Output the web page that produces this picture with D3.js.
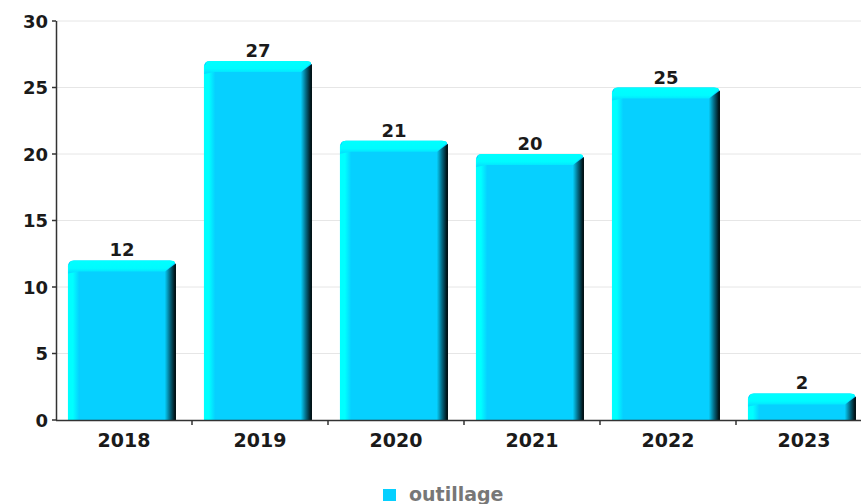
<!DOCTYPE html>
<html>
<head>
<meta charset="utf-8">
<script src="https://cdn.jsdelivr.net/npm/d3@7"></script>
<style>
  html, body { margin: 0; padding: 0; background: #fff; }
  svg { display: block; font-family: "DejaVu Sans", sans-serif; }
</style>
</head>
<body>
<svg id="chart" width="861" height="504"></svg>
<script>
const years = ["2018", "2019", "2020", "2021", "2022", "2023"];
const outillage = [12, 27, 21, 20, 25, 2];
const yTicks = [0, 5, 10, 15, 20, 25, 30];
const seriesName = "outillage";

const svg = d3.select("#chart");
const plot = { left: 56, right: 872, top: 21, bottom: 420 };

// category bands (the last band runs past the right edge of the canvas)
const xb = d3.scaleBand().domain(years).range([plot.left, plot.right]);
const barOffset = xb.bandwidth() * 0.088;
const barWidth = xb.bandwidth() * 0.794;
const y = d3.scaleLinear().domain([0, 30]).range([plot.bottom, plot.top]);

// gradients for the bevelled bar faces
const defs = svg.append("defs");
const leftGrad = defs.append("linearGradient").attr("id", "leftEdge").attr("x1", 0).attr("x2", 1).attr("y1", 0).attr("y2", 0);
leftGrad.append("stop").attr("offset", 0).attr("stop-color", "#00ffff");
leftGrad.append("stop").attr("offset", 0.45).attr("stop-color", "#00ffff");
leftGrad.append("stop").attr("offset", 1).attr("stop-color", "#06d2ff");
const rightGrad = defs.append("linearGradient").attr("id", "rightEdge").attr("x1", 0).attr("x2", 1).attr("y1", 0).attr("y2", 0);
rightGrad.append("stop").attr("offset", 0).attr("stop-color", "#06cdf8");
rightGrad.append("stop").attr("offset", 0.45).attr("stop-color", "#046a84");
rightGrad.append("stop").attr("offset", 1).attr("stop-color", "#000000");
const topGrad = defs.append("linearGradient").attr("id", "topEdge").attr("x1", 0).attr("x2", 0).attr("y1", 0).attr("y2", 1);
topGrad.append("stop").attr("offset", 0).attr("stop-color", "#00ffff");
topGrad.append("stop").attr("offset", 0.6).attr("stop-color", "#00fbff");
topGrad.append("stop").attr("offset", 1).attr("stop-color", "#04dcff");

// grid lines
svg.append("g").selectAll("line").data(yTicks.filter(d => d > 0)).join("line")
  .attr("x1", plot.left).attr("x2", 861)
  .attr("y1", d => y(d)).attr("y2", d => y(d))
  .attr("stroke", "#e6e6e6").attr("stroke-width", 1);

// bars
const bev = 11;
const bars = svg.append("g").selectAll("g").data(years.map((yr, i) => ({ yr, v: outillage[i] }))).join("g");
bars.each(function (d) {
  const g = d3.select(this);
  const x0 = xb(d.yr) + barOffset, w = barWidth;
  const top = y(d.v), bot = y(0), h = bot - top;
  const b = Math.min(bev, h * 0.5);
  // base shape with rounded top corners
  g.append("path")
    .attr("d", `M${x0},${bot} L${x0},${top + 6} Q${x0},${top} ${x0 + 6},${top} L${x0 + w - 6},${top} Q${x0 + w},${top} ${x0 + w},${top + 6} L${x0 + w},${bot} Z`)
    .attr("fill", "#06d0ff");
  // left edge
  g.append("rect").attr("x", x0).attr("y", top + 4).attr("width", b).attr("height", h - 4).attr("fill", "url(#leftEdge)");
  // right edge
  g.append("path")
    .attr("d", `M${x0 + w - b},${top + b} L${x0 + w},${top + 3} L${x0 + w},${bot} L${x0 + w - b},${bot} Z`)
    .attr("fill", "url(#rightEdge)");
  // top edge
  g.append("path")
    .attr("d", `M${x0 + 2},${top + 2} Q${x0 + 2},${top} ${x0 + 6},${top} L${x0 + w - 6},${top} Q${x0 + w - 1},${top} ${x0 + w - 1},${top + 2} L${x0 + w - b},${top + b} L${x0 + b},${top + b} L${x0},${top + b + 2} Z`)
    .attr("fill", "url(#topEdge)");
  // value label
  g.append("text").attr("x", x0 + w / 2).attr("y", top - 4)
    .attr("text-anchor", "middle").attr("font-size", 18).attr("font-weight", "bold").attr("fill", "#1a1a1a")
    .text(d.v);
});

// y axis
const yAxis = svg.append("g");
yAxis.append("line").attr("x1", plot.left + 0.5).attr("x2", plot.left + 0.5).attr("y1", plot.top).attr("y2", plot.bottom).attr("stroke", "#333").attr("stroke-width", 1.5);
yAxis.selectAll(".tk").data(yTicks).join("line")
  .attr("x1", plot.left - 4).attr("x2", plot.left)
  .attr("y1", d => y(d)).attr("y2", d => y(d)).attr("stroke", "#333").attr("stroke-width", 1.5);
yAxis.selectAll("text").data(yTicks).join("text")
  .attr("x", plot.left - 8).attr("y", d => y(d) + 6.5)
  .attr("text-anchor", "end").attr("font-size", 18).attr("font-weight", "bold").attr("fill", "#1a1a1a").text(d => d);

// x axis
const xAxis = svg.append("g");
xAxis.append("line").attr("x1", plot.left).attr("x2", 861).attr("y1", plot.bottom + 0.5).attr("y2", plot.bottom + 0.5).attr("stroke", "#333").attr("stroke-width", 1.5);
xAxis.selectAll(".tk").data(years.slice(1)).join("line")
  .attr("x1", d => xb(d)).attr("x2", d => xb(d))
  .attr("y1", plot.bottom).attr("y2", plot.bottom + 5).attr("stroke", "#333").attr("stroke-width", 1.5);
xAxis.selectAll("text").data(years).join("text")
  .attr("x", d => xb(d) + barOffset + barWidth / 2 + 2).attr("y", plot.bottom + 27)
  .attr("text-anchor", "middle").attr("font-size", 19).attr("font-weight", "bold").attr("fill", "#1a1a1a").text(d => d);

// legend
const legend = svg.append("g");
legend.append("rect").attr("x", 383).attr("y", 489).attr("width", 13).attr("height", 12).attr("fill", "#06d0ff");
legend.append("text").attr("x", 409).attr("y", 501).attr("font-size", 19).attr("font-weight", "bold").attr("fill", "#777").text(seriesName);
</script>
</body>
</html>
